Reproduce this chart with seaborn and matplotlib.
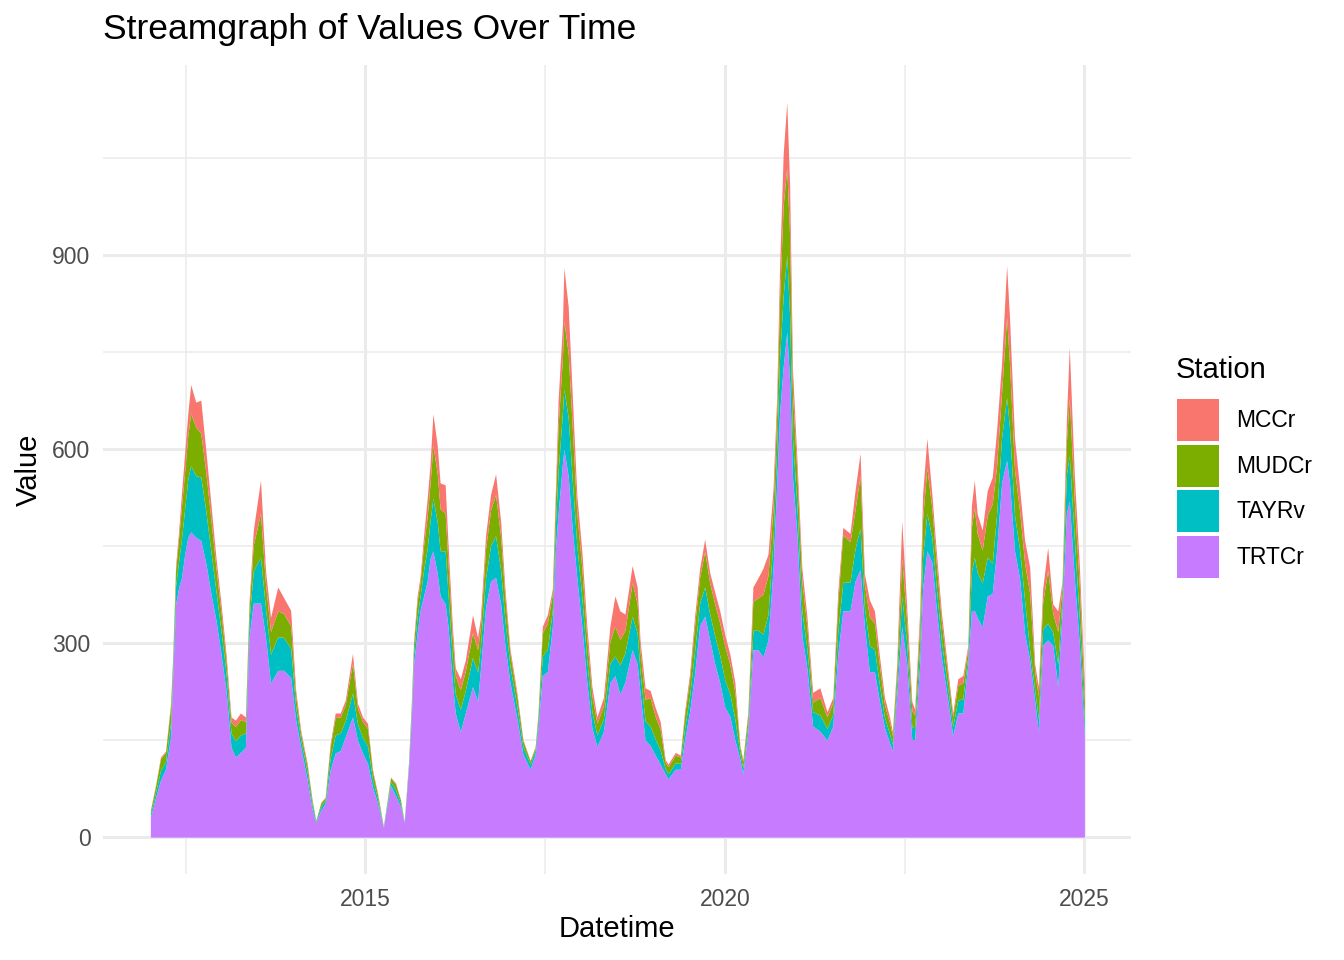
import pandas as pd
import numpy as np
import matplotlib
matplotlib.use("Agg")
import matplotlib.pyplot as plt
import matplotlib.dates as mdates
from matplotlib.patches import Patch
import seaborn as sns

# decimal years
years = [2012.01, 2012.08, 2012.15, 2012.22, 2012.29, 2012.32, 2012.36, 2012.40, 2012.44, 2012.49,
         2012.53, 2012.57, 2012.64, 2012.71, 2012.78, 2012.85, 2012.92, 2012.99, 2013.06, 2013.13,
         2013.19, 2013.26, 2013.33, 2013.38, 2013.44, 2013.54, 2013.61, 2013.68, 2013.78, 2013.86,
         2013.96, 2014.03, 2014.10, 2014.19, 2014.26, 2014.31, 2014.38, 2014.44, 2014.51, 2014.58,
         2014.65, 2014.72, 2014.82, 2014.89, 2014.96, 2015.03, 2015.10, 2015.17, 2015.25, 2015.35,
         2015.42, 2015.49, 2015.54, 2015.60, 2015.64, 2015.67, 2015.72, 2015.76, 2015.81, 2015.86,
         2015.90, 2015.94, 2016.00, 2016.04, 2016.11, 2016.15, 2016.21, 2016.25, 2016.32, 2016.39,
         2016.49, 2016.56, 2016.60, 2016.67, 2016.74, 2016.81, 2016.88, 2016.94, 2017.01, 2017.11,
         2017.19, 2017.29, 2017.36, 2017.40, 2017.46, 2017.53, 2017.60, 2017.64, 2017.68, 2017.74,
         2017.76, 2017.82, 2017.88, 2017.94, 2018.01, 2018.08, 2018.15, 2018.22, 2018.31, 2018.40,
         2018.47, 2018.54, 2018.61, 2018.71, 2018.78, 2018.82, 2018.89, 2018.96, 2019.03, 2019.10,
         2019.17, 2019.21, 2019.31, 2019.38, 2019.44, 2019.51, 2019.58, 2019.65, 2019.72, 2019.79,
         2019.86, 2019.93, 2020.00, 2020.07, 2020.14, 2020.21, 2020.25, 2020.32, 2020.39, 2020.46,
         2020.53, 2020.60, 2020.67, 2020.72, 2020.76, 2020.81, 2020.86, 2020.90, 2020.94, 2021.00,
         2021.07, 2021.14, 2021.22, 2021.32, 2021.42, 2021.50, 2021.57, 2021.64, 2021.74, 2021.81,
         2021.88, 2021.94, 2022.01, 2022.08, 2022.15, 2022.22, 2022.29, 2022.33, 2022.39, 2022.46,
         2022.53, 2022.60, 2022.64, 2022.71, 2022.75, 2022.81, 2022.88, 2022.94, 2023.01, 2023.08,
         2023.17, 2023.24, 2023.31, 2023.38, 2023.43, 2023.47, 2023.51, 2023.58, 2023.65, 2023.72,
         2023.78, 2023.85, 2023.92, 2023.96, 2024.03, 2024.10, 2024.17, 2024.24, 2024.31, 2024.36,
         2024.42, 2024.49, 2024.56, 2024.63, 2024.69, 2024.75, 2024.79, 2024.86, 2024.93, 2025.00]

trtcr = [31, 60, 88, 105, 155, 250, 360, 385, 400, 440,
         464, 472, 464, 459, 424, 377, 336, 284, 227, 139,
         124, 131, 139, 309, 362, 362, 309, 238, 258, 258,
         247, 181, 139, 88, 42, 23, 42, 52, 104, 130,
         134, 155, 186, 150, 130, 114, 77, 52, 15, 80,
         64, 47, 22, 105, 186, 268, 315, 350, 373, 396,
         431, 443, 408, 373, 361, 326, 239, 192, 163, 192,
         233, 210, 260, 355, 396, 402, 361, 297, 239, 181,
         128, 105, 128, 169, 250, 256, 326, 443, 501, 577,
         600, 559, 472, 402, 326, 239, 169, 140, 163, 239,
         250, 221, 240, 290, 268, 224, 150, 142, 127, 113,
         98, 90, 105, 105, 150, 194, 253, 327, 342, 305,
         268, 239, 201, 187, 150, 120, 98, 164, 290, 290,
         279, 305, 416, 545, 655, 727, 781, 705, 556, 470,
         312, 261, 172, 164, 150, 172, 283, 350, 350, 396,
         414, 326, 256, 256, 210, 169, 146, 134, 221, 326,
         268, 151, 151, 268, 384, 443, 425, 355, 280, 227,
         157, 192, 192, 268, 350, 351, 340, 325, 373, 377,
         443, 548, 583, 548, 443, 400, 315, 274, 210, 163,
         297, 305, 297, 233, 350, 501, 520, 400, 297, 157]

tayrv = [5, 8, 15, 12, 22, 14, 28, 40, 60, 72,
         90, 103, 95, 98, 80, 65, 45, 36, 27, 22,
         25, 27, 22, 25, 50, 71, 45, 45, 52, 51,
         45, 20, 12, 12, 7, 2, 6, 5, 18, 28,
         27, 25, 37, 25, 24, 27, 12, 7, 1, 6,
         9, 5, 1, 5, 11, 15, 25, 22, 40, 50,
         58, 81, 80, 70, 82, 50, 35, 30, 35, 35,
         45, 45, 35, 45, 55, 64, 52, 38, 25, 18,
         12, 8, 7, 12, 30, 35, 25, 35, 65, 80,
         93, 90, 75, 50, 45, 33, 25, 18, 20, 30,
         30, 45, 45, 52, 48, 32, 30, 30, 25, 22,
         8, 8, 10, 9, 18, 24, 35, 35, 45, 40,
         43, 42, 42, 35, 32, 9, 9, 12, 30, 30,
         35, 40, 45, 55, 85, 110, 119, 100, 60, 45,
         38, 30, 22, 25, 18, 18, 35, 44, 45, 50,
         64, 30, 40, 35, 25, 16, 14, 10, 17, 47,
         30, 20, 18, 28, 48, 58, 38, 32, 25, 20,
         14, 20, 22, 12, 60, 82, 70, 68, 60, 47,
         55, 70, 97, 85, 55, 45, 51, 15, 18, 20,
         25, 26, 20, 35, 20, 60, 70, 60, 40, 20]

mudcr = [5, 10, 18, 14, 25, 13, 25, 35, 50, 58,
         68, 81, 75, 68, 60, 50, 36, 28, 20, 17,
         22, 24, 18, 20, 40, 68, 37, 35, 40, 37,
         35, 17, 10, 10, 6, 1, 5, 4, 18, 27,
         25, 25, 46, 24, 25, 27, 12, 7, 1, 6,
         9, 5, 1, 4, 10, 15, 25, 22, 38, 50,
         58, 82, 75, 65, 58, 48, 34, 28, 30, 30,
         38, 35, 30, 45, 55, 64, 52, 35, 20, 16,
         9, 5, 4, 9, 36, 40, 25, 37, 70, 85,
         105, 100, 80, 50, 45, 34, 25, 18, 20, 34,
         46, 40, 35, 52, 45, 32, 33, 44, 35, 32,
         10, 11, 12, 10, 20, 26, 40, 40, 55, 48,
         50, 50, 52, 45, 42, 10, 10, 14, 45, 50,
         62, 60, 50, 55, 90, 140, 135, 125, 70, 50,
         45, 35, 15, 27, 18, 18, 45, 74, 62, 60,
         81, 35, 45, 40, 30, 20, 17, 13, 20, 58,
         35, 25, 20, 35, 60, 70, 45, 38, 30, 22,
         15, 23, 25, 12, 70, 77, 60, 51, 65, 92,
         75, 70, 124, 100, 70, 60, 58, 88, 28, 35,
         40, 82, 30, 50, 18, 50, 90, 60, 50, 32]

mccr = [1, 2, 3, 2, 5, 3, 7, 10, 20, 30,
        34, 44, 39, 51, 34, 24, 16, 14, 10, 8,
        10, 10, 7, 8, 23, 51, 22, 22, 37, 25,
        24, 9, 4, 4, 2, 0, 1, 1, 5, 7,
        6, 7, 15, 8, 7, 8, 3, 2, 0, 1,
        2, 1, 0, 1, 3, 5, 8, 8, 15, 28,
        30, 49, 43, 40, 44, 30, 18, 12, 17, 17,
        28, 19, 15, 21, 24, 32, 24, 14, 7, 6,
        2, 1, 1, 2, 10, 13, 8, 15, 40, 50,
        83, 72, 49, 28, 27, 20, 14, 10, 13, 23,
        47, 44, 25, 26, 26, 17, 18, 11, 14, 12,
        4, 4, 4, 3, 6, 9, 14, 14, 19, 16,
        18, 19, 18, 16, 15, 3, 3, 4, 22, 31,
        40, 33, 29, 25, 50, 79, 102, 78, 37, 22,
        21, 16, 15, 15, 8, 8, 16, 11, 13, 30,
        35, 17, 26, 19, 15, 11, 9, 6, 10, 58,
        22, 14, 9, 19, 38, 46, 22, 18, 15, 11,
        6, 10, 11, 5, 33, 42, 30, 31, 38, 41,
        56, 46, 80, 71, 49, 35, 35, 41, 12, 15,
        22, 35, 14, 32, 8, 36, 78, 40, 33, 24]

stations = ["MCCr", "MUDCr", "TAYRv", "TRTCr"]
colors = {"MCCr": "#F8766D", "MUDCr": "#7CAE00", "TAYRv": "#00BFC4", "TRTCr": "#C77CFF"}


def to_date(ys):
    # decimal year -> timestamp (exact on whole years)
    out = []
    for y in ys:
        yr = int(np.floor(y))
        start = pd.Timestamp(year=yr, month=1, day=1)
        end = pd.Timestamp(year=yr + 1, month=1, day=1)
        out.append(start + (end - start) * (y - yr))
    return pd.DatetimeIndex(out)


dates = to_date(years)

sns.set_theme(style="white")
plt.rcParams['font.family'] = ['Liberation Sans', 'DejaVu Sans']

fig = plt.figure(figsize=(13.44, 9.6), dpi=100)
ax = fig.add_axes([0.0766, 0.0896, 0.765, 0.8424])

# bottom to top: TRTCr, TAYRv, MUDCr, MCCr
ax.stackplot(dates, trtcr, tayrv, mudcr, mccr,
             colors=[colors["TRTCr"], colors["TAYRv"], colors["MUDCr"], colors["MCCr"]],
             linewidth=0, zorder=3)

ax.set_xlim(to_date([2011.35, 2025.65]))
ax.set_ylim(-57, 1194)

ax.set_xticks(to_date([2015, 2020, 2025]))
ax.set_xticks(to_date([2012.5, 2017.5, 2022.5]), minor=True)
ax.xaxis.set_major_formatter(mdates.DateFormatter("%Y"))
ax.set_yticks([0, 300, 600, 900])
ax.set_yticks([150, 450, 750, 1050], minor=True)

ax.grid(which="major", color="#EBEBEB", linewidth=2.2, zorder=0)
ax.grid(which="minor", color="#EBEBEB", linewidth=1.1, zorder=0)
ax.set_axisbelow(True)
for s in ax.spines.values():
    s.set_visible(False)
ax.tick_params(which="both", length=0, labelsize=16.5, labelcolor="#4D4D4D")
ax.tick_params(axis="y", pad=9)
ax.tick_params(axis="x", pad=10)

ax.set_xlabel("Datetime", fontsize=21, color="black", labelpad=3)
ax.set_ylabel("Value", fontsize=21, color="black", labelpad=7)
fig.text(103 / 1344, 1 - 29 / 960, "Streamgraph of Values Over Time", fontsize=25.5,
         color="black", ha="left", va="center")

# legend title drawn separately to get the ggplot spacing
fig.text(1176 / 1344, 1 - 370 / 960, "Station", fontsize=21, color="black",
         ha="left", va="center")
handles = [Patch(facecolor=colors[s], edgecolor="none") for s in stations]
leg = fig.legend(handles, stations, loc="upper left",
                 bbox_to_anchor=(1177 / 1344, 1 - 399 / 960), frameon=False,
                 fontsize=16.5, handlelength=1.85, handleheight=2.45,
                 handletextpad=0.75, labelspacing=0.15, borderaxespad=0, borderpad=0)
for t in leg.get_texts():
    t.set_color("black")

fig.savefig("out.png", dpi=100)
